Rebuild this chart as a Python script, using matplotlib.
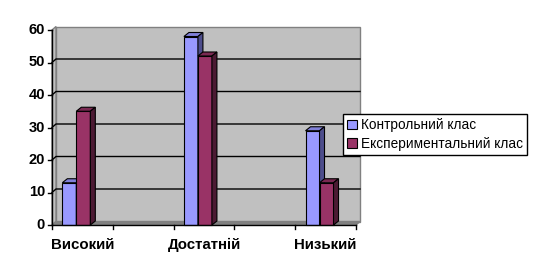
import matplotlib.pyplot as plt
from matplotlib.patches import Polygon, Rectangle
from matplotlib.lines import Line2D

categories = ["Високий", "Достатній", "Низький"]
series_names = ["Контрольний клас", "Експериментальний клас"]
control = [13, 58, 29]
experimental = [35, 52, 13]
y_ticks = [0, 10, 20, 30, 40, 50, 60]

plt.rcParams['font.family'] = ['Liberation Sans', 'DejaVu Sans']

W, H = 533, 274
fig = plt.figure(figsize=(W / 100, H / 100), dpi=100)
# axes frame in pixels: x 52..356, y(0)=225, y(60)=30
ax = fig.add_axes([52 / W, (H - 225) / H, 304 / W, 195 / H])
ax.set_xlim(0, 5)
ax.set_ylim(0, 60)
ax.axis('off')

px_x = 5 / 304.0
px_y = 60 / 195.0
wdx, wdy = 4 * px_x, 3.5 * px_y   # wall depth
bdx, bdy = 5 * px_x, 4 * px_y     # bar depth

wall = '#c0c0c0'
# back wall
ax.add_patch(Rectangle((wdx, wdy), 5, 60, facecolor=wall, edgecolor='#808080', lw=1, clip_on=False, zorder=1))
# side wall
ax.add_patch(Polygon([(0, 0), (wdx, wdy), (wdx, 60 + wdy), (0, 60)], closed=True,
                     facecolor=wall, edgecolor='#808080', lw=1, clip_on=False, zorder=1))
# floor
ax.add_patch(Polygon([(0, 0), (5, 0), (5 + wdx, wdy), (wdx, wdy)], closed=True,
                     facecolor='#808080', edgecolor='#808080', lw=1, clip_on=False, zorder=2))

# gridlines on walls
for v in y_ticks[1:-1]:
    ax.add_line(Line2D([0, wdx, 5 + wdx], [v, v + wdy, v + wdy], color='black', lw=1, zorder=2, clip_on=False))

# axes lines and ticks
ax.add_line(Line2D([0, 0], [0, 60], color='black', lw=1, zorder=6, clip_on=False))
ax.add_line(Line2D([0, 5], [0, 0], color='black', lw=1, zorder=6, clip_on=False))
for v in y_ticks:
    ax.add_line(Line2D([0, -4 * px_x], [v, v], color='black', lw=1, zorder=6, clip_on=False))
    ax.text(-7 * px_x, v, str(v), ha='right', va='center', fontsize=10.5, fontweight='bold')
for t in range(6):
    ax.add_line(Line2D([t, t], [0, -4 * px_y], color='black', lw=1, zorder=6, clip_on=False))

bw = 14 * px_x
styles = [('#9999ff', '#8080d8', '#4d4d8c'), ('#993366', '#7a2952', '#4c1a33')]


def bar3d(x0, h, front, top, side):
    ax.add_patch(Rectangle((x0, 0), bw, h, facecolor=front, edgecolor='black', lw=0.8, zorder=4, clip_on=False))
    ax.add_patch(Polygon([(x0, h), (x0 + bdx, h + bdy), (x0 + bw + bdx, h + bdy), (x0 + bw, h)], closed=True,
                         facecolor=top, edgecolor='black', lw=0.8, zorder=4, clip_on=False))
    ax.add_patch(Polygon([(x0 + bw, 0), (x0 + bw + bdx, bdy), (x0 + bw + bdx, h + bdy), (x0 + bw, h)], closed=True,
                         facecolor=side, edgecolor='black', lw=0.8, zorder=4, clip_on=False))


for i, cat in enumerate(categories):
    c = 2 * i + 0.4
    bar3d(c - bw, control[i], *styles[0])
    bar3d(c, experimental[i], *styles[1])
    ax.text(2 * i + 0.5, -4.0, cat, ha='center', va='top', fontsize=10.8, fontweight='bold')

handles = [Rectangle((0, 0), 1, 1, facecolor=styles[k][0], edgecolor='black', lw=0.8) for k in range(2)]
leg = fig.legend(handles, series_names, loc='upper left', bbox_to_anchor=(343 / W, 1 - 114 / H),
                 fontsize=9.8, frameon=True, fancybox=False, edgecolor='black', framealpha=1,
                 handlelength=0.7, handleheight=0.7, handletextpad=0.3, borderpad=0.3,
                 labelspacing=0.35, borderaxespad=0)
leg.get_frame().set_linewidth(1)

fig.savefig("out.png", dpi=100)
